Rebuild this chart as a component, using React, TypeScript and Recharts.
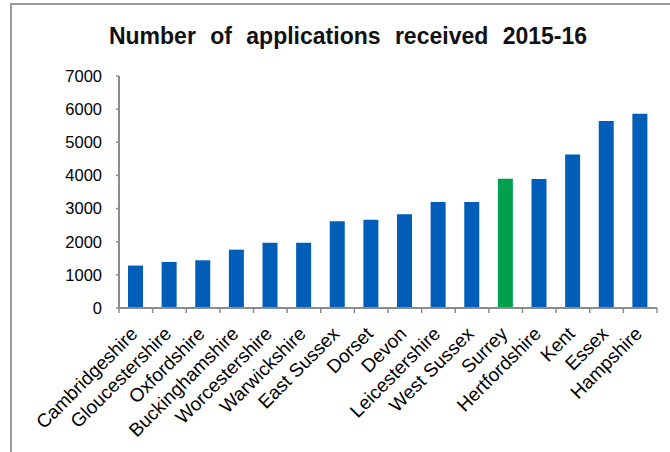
import React from 'react';
import { BarChart, Bar, XAxis, YAxis, Cell } from 'recharts';

const counties = [
  'Cambridgeshire', 'Gloucestershire', 'Oxfordshire', 'Buckinghamshire',
  'Worcestershire', 'Warwickshire', 'East Sussex', 'Dorset', 'Devon',
  'Leicestershire', 'West Sussex', 'Surrey', 'Hertfordshire', 'Kent',
  'Essex', 'Hampshire',
];
const applications = [
  1280, 1390, 1440, 1760, 1970, 1970, 2620, 2660, 2830,
  3200, 3200, 3900, 3890, 4630, 5640, 5860,
];
const highlighted = 'Surrey';
const yTicks = [0, 1000, 2000, 3000, 4000, 5000, 6000, 7000];
const title = 'Number of applications received 2015-16';

const data = counties.map((county, i) => ({ county, value: applications[i] }));

const W = 670;
const H = 452;
const M = { top: 76, right: 13, left: 0, bottom: 0 };
const Y_AXIS_W = 119;
const X_AXIS_H = 144;
const HALF_BAND = (W - M.right - Y_AXIS_W) / counties.length / 2;
const AXIS_COLOR = '#8c8c8c';
const FONT = 'Arial, "Liberation Sans", Helvetica, sans-serif';

function CountyTick(props: any) {
  const { x, y, payload, index } = props;
  const last = index === counties.length - 1;
  return (
    <g>
      <line x1={x - HALF_BAND} x2={x - HALF_BAND} y1={y} y2={y + 5} stroke={AXIS_COLOR} strokeWidth={1.5} />
      {last && (
        <line x1={x + HALF_BAND} x2={x + HALF_BAND} y1={y} y2={y + 5} stroke={AXIS_COLOR} strokeWidth={1.5} />
      )}
      <text
        transform={`translate(${x + 3},${y + 27}) rotate(-45)`}
        textAnchor="end"
        fontSize={19}
        fontFamily={FONT}
        fill="#000"
      >
        {payload.value}
      </text>
    </g>
  );
}

export default function App() {
  return (
    <div style={{ position: 'absolute', left: 0, top: 0, width: W, height: H, background: '#fff' }}>
      <div
        style={{
          position: 'absolute', left: 10, top: 3, width: W - 10, height: H - 3,
          borderLeft: '2px solid #9a9a9a', borderTop: '2px solid #9a9a9a', boxSizing: 'border-box',
        }}
      />
      <div
        style={{
          position: 'absolute', left: 0, top: 22, width: 696, textAlign: 'center',
          fontFamily: FONT, fontWeight: 'bold', fontSize: 23, lineHeight: '28px', color: '#111',
          wordSpacing: 8,
        }}
      >
        {title}
      </div>
      <div style={{ position: 'absolute', left: 0, top: 0 }}>
        <BarChart width={W} height={H} data={data} margin={M} barCategoryGap={0}>
          <XAxis
            dataKey="county"
            interval={0}
            height={X_AXIS_H}
            tickLine={false}
            tickSize={0}
            tickMargin={0}
            axisLine={{ stroke: AXIS_COLOR, strokeWidth: 2 }}
            tick={<CountyTick />}
          />
          <YAxis
            width={Y_AXIS_W}
            domain={[0, 7000]}
            ticks={yTicks}
            interval={0}
            tickSize={3}
            tickMargin={14}
            axisLine={{ stroke: AXIS_COLOR, strokeWidth: 2 }}
            tickLine={{ stroke: AXIS_COLOR, strokeWidth: 1.5 }}
            tick={{ fontSize: 16.5, fontFamily: FONT, fill: '#000' }}
          />
          <Bar dataKey="value" barSize={15} isAnimationActive={false}>
            {data.map((d) => (
              <Cell key={d.county} fill={d.county === highlighted ? '#00A04E' : '#005EB8'} />
            ))}
          </Bar>
        </BarChart>
      </div>
    </div>
  );
}
